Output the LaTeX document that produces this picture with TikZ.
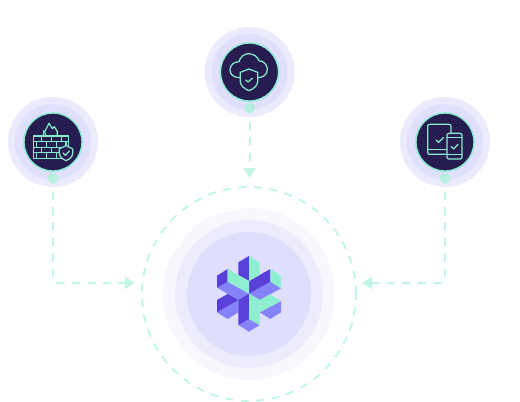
\documentclass[tikz,border=0pt]{standalone}
\usetikzlibrary{arrows.meta}

\definecolor{ringpale}{HTML}{EBEBFD}
\definecolor{ringmid}{HTML}{E0E0FC}
\definecolor{hubpale}{HTML}{F7F7FE}
\definecolor{hubmid}{HTML}{ECECFD}
\definecolor{hubcore}{HTML}{DFDFFD}
\definecolor{badge}{HTML}{261C50}
\definecolor{mint}{HTML}{86EBCB}
\definecolor{dashmint}{HTML}{C3F5E6}
\definecolor{dotmint}{HTML}{B6EFE0}
\definecolor{logodark}{HTML}{5B3FD9}
\definecolor{logomint}{HTML}{8EEFD0}
\definecolor{logolight}{HTML}{8583FA}

\begin{document}
\begin{tikzpicture}[
                x=1pt, y=-1pt,
                disc/.style={circle, inner sep=0pt, minimum size=#1},
                link/.style={line width=2pt, draw=dashmint, dash pattern=on 8pt off 7.5pt,
                    rounded corners=4pt, -{Triangle[length=10pt, width=12pt, fill=dashmint]}},
                icon/.style={line width=1.25pt, draw=mint, line join=round, line cap=round},
                face/.style={draw=none, fill=#1},
            ]
                \useasboundingbox (0, 0) rectangle (520, 402);

                %% the three badges
                \foreach \n/\cx/\cy in {cloud/249.5/72, wall/53/142, device/445/142}{
                    \node[disc=90pt, fill=ringpale] (\n-outer) at (\cx, \cy) {};
                    \node[disc=76pt, fill=ringmid] (\n-mid) at (\cx, \cy) {};
                    \node[disc=58pt, fill=badge, draw=mint, line width=1.4pt] (\n) at (\cx, \cy) {};
                    \node[disc=11pt, fill=dotmint] (\n-dot) at (\cx, \cy+36) {};
                }

                %% the hub
                \node[disc=172pt, fill=hubpale] (hub-outer) at (249, 294) {};
                \node[disc=148pt, fill=hubmid] (hub-mid) at (249, 294) {};
                \node[disc=124pt, fill=hubcore] (hub-core) at (249, 294) {};
                \node[disc=214pt, draw=dashmint, line width=2pt, dash pattern=on 8pt off 7.5pt] (hub) at (249, 294) {};

                %% links into the hub
                \coordinate (in-wall) at (135, 283);
                \coordinate (in-device) at (362, 283);
                \coordinate (in-cloud) at (249.5, 178);
                \draw[link, shorten <=8pt] (cloud-dot) -- (in-cloud);
                \draw[link, shorten <=8pt] (wall-dot) |- (in-wall);
                \draw[link, shorten <=8pt] (device-dot) |- (in-device);

                %% cloud and shield
                \begin{scope}[shift={(190, 15)}, x=1pt/3, y=-1pt/3]
                    \draw[icon] (150, 188) .. controls (130, 188) and (120, 178) .. (120, 165)
                        .. controls (120, 150) and (132, 140) .. (147, 140)
                        .. controls (150, 125) and (165, 116) .. (175, 116)
                        .. controls (190, 116) and (203, 125) .. (207, 137)
                        .. controls (222, 138) and (232, 150) .. (232, 163)
                        .. controls (232, 178) and (220, 188) .. (204, 188);
                    \draw[icon] (151, 172) -- (177, 162) -- (203, 172) -- (203, 200)
                        .. controls (203, 212) and (190, 222) .. (177, 227)
                        .. controls (164, 222) and (151, 212) .. (151, 200) -- cycle;
                    \draw[icon] (167, 195) -- (174, 201) -- (187, 190);
                \end{scope}

                %% brick wall, flame and shield
                \begin{scope}[shift={(0, 90)}, x=1pt/3, y=-1pt/3]
                    \draw[icon] (100, 138) rectangle (205, 205);
                    \foreach \y in {155, 172, 188}{
                        \draw[icon] (100, \y) -- (205, \y);
                    }
                    \foreach \x in {125, 155, 185}{
                        \draw[icon] (\x, 138) -- (\x, 155);
                        \draw[icon] (\x, 172) -- (\x, 188);
                    }
                    \foreach \x in {110, 140, 170, 198}{
                        \draw[icon] (\x, 155) -- (\x, 172);
                        \draw[icon] (\x, 188) -- (\x, 205);
                    }
                    \draw[icon] (130, 138) -- (130, 122);
                    \draw[icon] (138, 138) -- (134, 126) -- (147, 100) -- (157, 116)
                        -- (163, 110) -- (172, 125) -- (172, 138);
                    \draw[icon, fill=badge] (198, 167) -- (218, 177) -- (218, 190)
                        .. controls (218, 200) and (208, 208) .. (198, 212)
                        .. controls (188, 208) and (178, 200) .. (178, 190)
                        -- (178, 177) -- cycle;
                    \draw[icon] (189, 189) -- (196, 196) -- (208, 183);
                \end{scope}

                %% tablet and phone
                \begin{scope}[shift={(390, 90)}, x=1pt/3, y=-1pt/3]
                    \draw[icon, rounded corners=2pt] (113, 103) rectangle (183, 193);
                    \draw[icon] (113, 178) -- (171, 178);
                    \draw[icon, fill=badge, rounded corners=2pt] (171, 130) rectangle (216, 207);
                    \draw[icon] (171, 143) -- (216, 143);
                    \draw[icon] (171, 194) -- (216, 194);
                    \draw[icon] (138, 150) -- (146, 157) -- (160, 143);
                    \draw[icon] (183, 170) -- (191, 177) -- (204, 163);
                \end{scope}

                %% the logo
                \begin{scope}[shift={(205, 245)}, x=1pt/3, y=-1pt/3]
                    \fill[face=logolight] (36, 128) -- (68, 110) -- (132, 146) -- (100, 165) -- cycle;
                    \fill[face=logolight] (196, 110) -- (228, 130) -- (164, 165) -- (132, 146) -- cycle;
                    \fill[face=logolight] (36, 202) -- (100, 165) -- (100, 202) -- (68, 222) -- cycle;
                    \fill[face=logolight] (164, 202) -- (228, 168) -- (228, 202) -- (196, 222) -- cycle;
                    \fill[face=logolight] (100, 240) -- (132, 222) -- (164, 240) -- (132, 260) -- cycle;
                    \fill[face=logodark] (100, 52) -- (132, 33) -- (132, 108) -- (100, 90) -- cycle;
                    \fill[face=logodark] (132, 108) -- (196, 72) -- (196, 110) -- (132, 146) -- cycle;
                    \fill[face=logodark] (36, 92) -- (68, 72) -- (68, 110) -- (36, 128) -- cycle;
                    \fill[face=logodark] (36, 165) -- (68, 147) -- (100, 165) -- (36, 202) -- cycle;
                    \fill[face=logodark] (100, 165) -- (132, 146) -- (132, 222) -- (100, 240) -- cycle;
                    \fill[face=logomint] (132, 33) -- (164, 52) -- (164, 90) -- (132, 108) -- cycle;
                    \fill[face=logomint] (196, 72) -- (228, 92) -- (228, 130) -- (196, 110) -- cycle;
                    \fill[face=logomint] (68, 72) -- (132, 108) -- (132, 146) -- (68, 110) -- cycle;
                    \fill[face=logomint] (132, 146) -- (164, 165) -- (164, 240) -- (132, 222) -- cycle;
                    \fill[face=logomint] (164, 165) -- (196, 148) -- (228, 168) -- (164, 202) -- cycle;
                \end{scope}
            \end{tikzpicture}
\end{document}
